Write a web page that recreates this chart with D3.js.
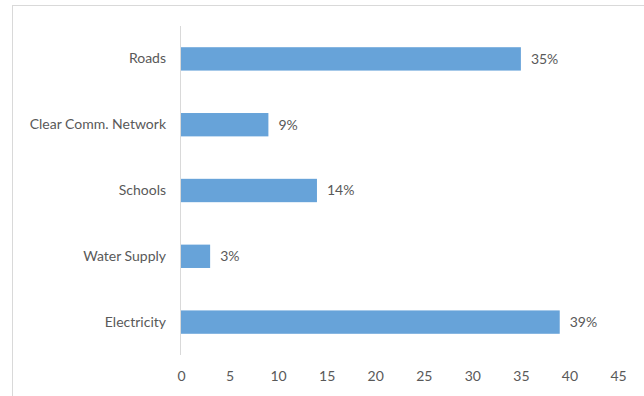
<!DOCTYPE html>
<html>
<head>
<meta charset="utf-8">
<script src="https://cdn.jsdelivr.net/npm/d3@7"></script>
<style>
	body { margin: 0; background: #fff; }
	text { font-family: Lato, 'Open Sans', sans-serif; fill: #595959; }
</style>
</head>
<body>
<div id="graphic"></div>
<script>
// categories, top to bottom
var categories = ['Roads', 'Clear Comm. Network', 'Schools', 'Water Supply', 'Electricity'];
var values = [35, 9, 14, 3, 39];
var xTicks = [0, 5, 10, 15, 20, 25, 30, 35, 40, 45];

var graphic_data = categories.map((c, i) => ({ name: c, value: values[i] }));

var width = 644, height = 396;
var margin = { top: 26, right: 26, bottom: 41, left: 181 };
var chart_width = width - margin.left - margin.right;
var chart_height = height - margin.top - margin.bottom;

var svg = d3.select('#graphic')
	.append('svg')
	.attr('width', width)
	.attr('height', height);

// chart frame
svg.append('rect')
	.attr('x', 12.5)
	.attr('y', 5.5)
	.attr('width', 700)
	.attr('height', 500)
	.attr('fill', 'none')
	.attr('stroke', '#d9d9d9');

var g = svg.append('g')
	.attr('transform', 'translate(' + margin.left + ',' + margin.top + ')');

var x = d3.scaleLinear().domain([0, 45]).range([0, 437]);

var y = d3.scaleBand()
	.domain(categories)
	.range([0, chart_height])
	.paddingInner(0.645)
	.paddingOuter(0.3225);

// x axis labels, no line
var xAxis = d3.axisBottom(x).tickValues(xTicks).tickSize(0).tickPadding(0);
g.append('g')
	.attr('class', 'x axis')
	.attr('transform', 'translate(0,' + (chart_height + 16) + ')')
	.call(xAxis)
	.call(a => a.select('.domain').remove())
	.selectAll('text')
	.attr('font-size', 14)
	.style('font-family', null);

// y axis
var yAxis = d3.axisLeft(y).tickSize(0).tickPadding(15);
g.append('g')
	.attr('class', 'y axis')
	.call(yAxis)
	.call(a => a.select('.domain').remove())
	.selectAll('text')
	.attr('font-size', 14)
	.style('font-family', null);

g.append('line')
	.attr('x1', -0.5).attr('x2', -0.5)
	.attr('y1', 0).attr('y2', chart_height)
	.attr('stroke', '#d9d9d9');

g.selectAll('rect.bar')
	.data(graphic_data)
	.join('rect')
	.attr('class', 'bar')
	.attr('x', x(0))
	.attr('y', d => y(d.name))
	.attr('width', d => x(d.value) - x(0))
	.attr('height', y.bandwidth())
	.attr('fill', '#67a3d9');

g.selectAll('text.dataLabels')
	.data(graphic_data)
	.join('text')
	.attr('class', 'dataLabels')
	.attr('x', d => x(d.value) + 10)
	.attr('y', d => y(d.name) + y.bandwidth() / 2)
	.attr('dy', '0.35em')
	.attr('font-size', 14)
	.text(d => d.value + '%');
</script>
</body>
</html>
